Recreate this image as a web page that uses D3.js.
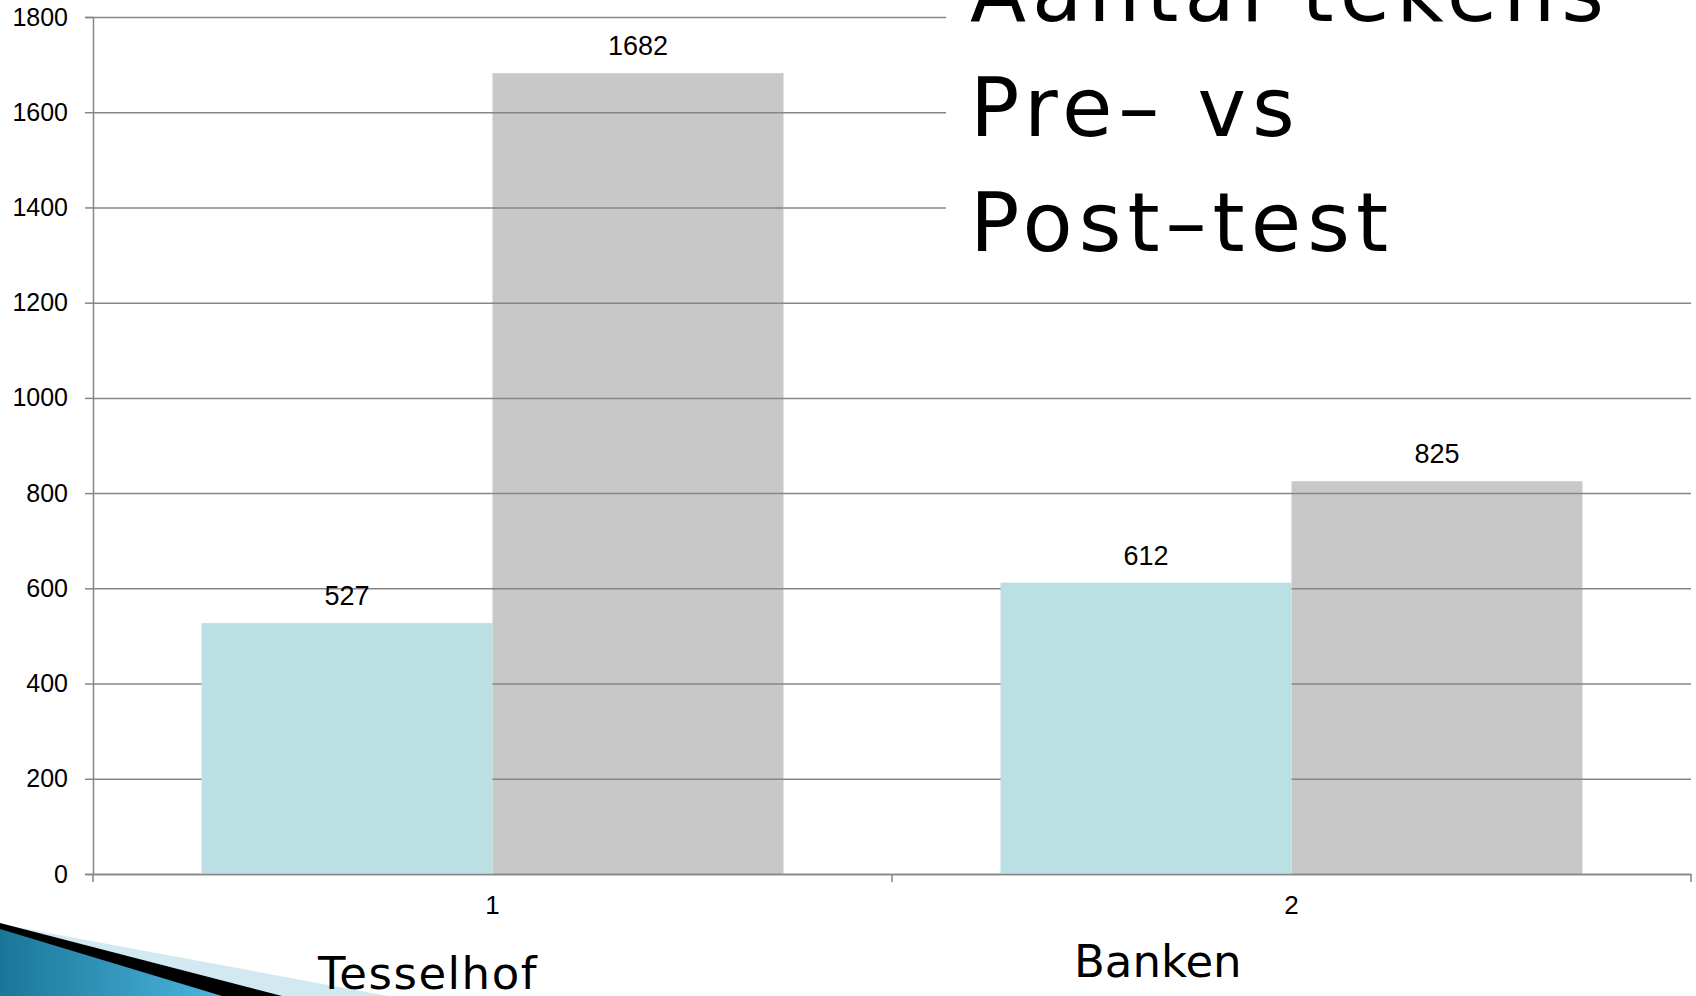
<!DOCTYPE html>
<html>
<head>
<meta charset="utf-8">
<script src="https://cdn.jsdelivr.net/npm/d3@7"></script>
<style>
  body { margin: 0; background: #fff; }
  svg { display: block; }
</style>
</head>
<body>
<div id="chart"></div>
<script>
// data
const categories = ["1", "2"];
const groupLabels = ["Tesselhof", "Banken"];
const preValues = [527, 612];
const postValues = [1682, 825];
const yTicks = [0, 200, 400, 600, 800, 1000, 1200, 1400, 1600, 1800];
const titleLines = ["Aantal tekens", "Pre– vs", "Post–test"];

let width = 1696,
    height = 996;

let svg = d3.select("#chart").append("svg")
    .attr("width", width)
    .attr("height", height);

let x0 = d3.scaleBand()
    .domain(categories)
    .range([93, 1691])
    .paddingInner(0.2716)
    .paddingOuter(0.1358);

let x1 = d3.scaleBand()
    .domain(["pre", "post"])
    .range([0, x0.bandwidth()]);

let y = d3.scaleLinear()
    .domain([0, 1800])
    .range([874, 17]);

let rows = categories.map((c, i) => ({cat: c, pre: preValues[i], post: postValues[i]}));

// grey bars sit under the gridlines, cyan bars on top of them
svg.append("g").selectAll("rect")
    .data(rows)
    .enter().append("rect")
    .attr("x", d => x0(d.cat) + x1("post"))
    .attr("y", d => y(d.post))
    .attr("width", x1.bandwidth())
    .attr("height", d => y(0) - y(d.post))
    .attr("fill", "#c8c8c8");

svg.append("g")
    .attr("transform", "translate(93,0)")
    .call(d3.axisLeft(y).tickValues(yTicks).tickSize(-1598).tickFormat(""))
    .call(g => g.select(".domain").remove())
    .call(g => g.selectAll("line").attr("stroke", "#868686").attr("stroke-width", 1.5));

svg.append("g").selectAll("rect")
    .data(rows)
    .enter().append("rect")
    .attr("x", d => x0(d.cat) + x1("pre"))
    .attr("y", d => y(d.pre))
    .attr("width", x1.bandwidth())
    .attr("height", d => y(0) - y(d.pre))
    .attr("fill", "#bbe0e3");

// y axis
let yAxis = svg.append("g")
    .attr("transform", "translate(93,0)")
    .call(d3.axisLeft(y).tickValues(yTicks).tickSize(8).tickPadding(17).tickFormat(d3.format("d")));
yAxis.select(".domain").attr("stroke", "#868686").attr("stroke-width", 1.5);
yAxis.selectAll("line").attr("stroke", "#868686").attr("stroke-width", 1.5);
yAxis.selectAll("text")
    .attr("font-family", "Liberation Sans, Arial, sans-serif")
    .attr("font-size", 25)
    .attr("fill", "#000");

// x axis
let xAxis = svg.append("g")
    .attr("transform", "translate(0,874)")
    .call(d3.axisBottom(x0).tickSize(0).tickPadding(22));
xAxis.select(".domain").attr("stroke", "#868686").attr("stroke-width", 1.5);
xAxis.selectAll("text")
    .attr("font-family", "Liberation Sans, Arial, sans-serif")
    .attr("font-size", 26)
    .attr("fill", "#000");

// category separators on the x axis
let sepX = [93].concat(categories.map(c => x0(c) + x0.bandwidth() + x0.step() * x0.paddingInner() / 2));
svg.append("g").selectAll("line")
    .data(sepX)
    .enter().append("line")
    .attr("x1", d => d).attr("x2", d => d)
    .attr("y1", 874).attr("y2", 882)
    .attr("stroke", "#868686")
    .attr("stroke-width", 1.5);

// value labels
let labels = [];
rows.forEach(d => {
  labels.push({x: x0(d.cat) + x1("pre") + x1.bandwidth() / 2, v: d.pre});
  labels.push({x: x0(d.cat) + x1("post") + x1.bandwidth() / 2, v: d.post});
});
svg.append("g").selectAll("text")
    .data(labels)
    .enter().append("text")
    .attr("x", d => d.x)
    .attr("y", d => y(d.v) - 18)
    .attr("text-anchor", "middle")
    .attr("font-family", "Liberation Sans, Arial, sans-serif")
    .attr("font-size", 27)
    .text(d => d.v);

// slide title on a white box over the gridlines
svg.append("rect")
    .attr("x", 946).attr("y", 0)
    .attr("width", width - 946).attr("height", 275)
    .attr("fill", "#fff");

svg.append("g").selectAll("text")
    .data(titleLines)
    .enter().append("text")
    .attr("x", 970)
    .attr("y", (d, i) => 21 + i * 115)
    .attr("font-family", "DejaVu Sans, sans-serif")
    .attr("font-size", 82)
    .attr("letter-spacing", 6)
    .text(d => d);

// decoration, bottom left
let defs = svg.append("defs");
let grad = defs.append("linearGradient").attr("id", "blueGrad");
grad.append("stop").attr("offset", "0%").attr("stop-color", "#1a7699");
grad.append("stop").attr("offset", "100%").attr("stop-color", "#4cb6dc");

let deco = svg.append("g");
deco.append("path").attr("d", "M0,924 L388,996 L0,996 Z").attr("fill", "#d3e9f1");
deco.append("path").attr("d", "M0,923 L282,996 L0,996 Z").attr("fill", "#000");
deco.append("path").attr("d", "M0,929 L222,996 L0,996 Z").attr("fill", "url(#blueGrad)");

// group names under the axis
let groupX = [318, 1074];
let groupY = [989, 977];
let groupSpacing = [1.5, 0];
svg.append("g").selectAll("text")
    .data(groupLabels)
    .enter().append("text")
    .attr("x", (d, i) => groupX[i])
    .attr("y", (d, i) => groupY[i])
    .attr("letter-spacing", (d, i) => groupSpacing[i])
    .attr("font-family", "DejaVu Sans, sans-serif")
    .attr("font-size", 45)
    .text(d => d);
</script>
</body>
</html>
